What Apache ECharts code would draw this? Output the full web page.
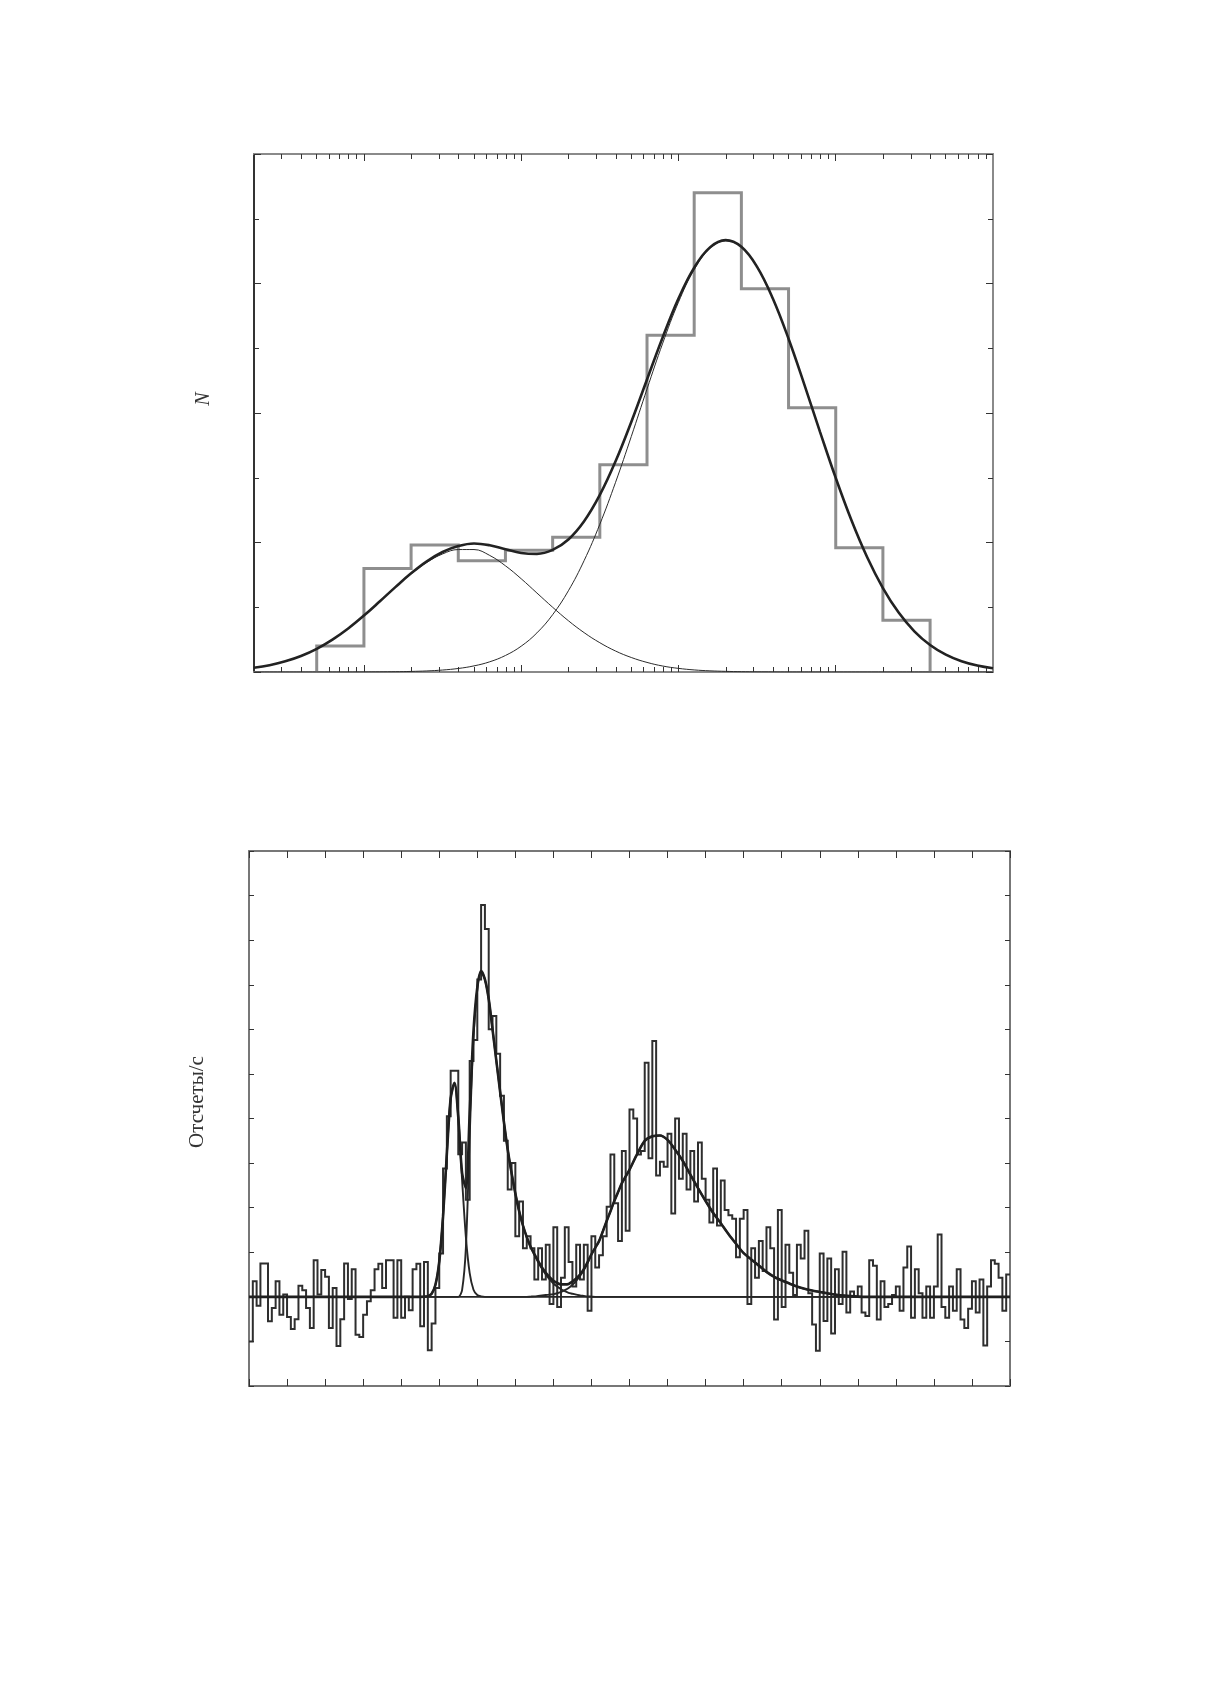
<!DOCTYPE html>
<html>
<head>
<meta charset="utf-8">
<script src="https://cdn.jsdelivr.net/npm/echarts@6/dist/echarts.min.js"></script>
<style>html,body{margin:0;padding:0;background:#fff}#c{width:1210px;height:1683px}</style>
</head>
<body>
<div id="c"></div>
<script>
// ---------- Top panel: duration distribution (log time axis) ----------
const durMin = 0.02, durMax = 1000;
const durMajorTicks = [0.1, 1, 10, 100];
const durMinorTicks = [0.03,0.04,0.05,0.06,0.07,0.08,0.09,
  0.2,0.3,0.4,0.5,0.6,0.7,0.8,0.9, 2,3,4,5,6,7,8,9,
  20,30,40,50,60,70,80,90, 200,300,400,500,600,700,800,900];
const countMin = 0, countMax = 200, countStep = 50;
const histEdges = [0.0501, 0.1, 0.1995, 0.398, 0.794, 1.585, 3.162, 6.31, 12.59, 25.12, 50.12, 100, 199.5, 398.1];
const histCounts = [10, 40, 49, 43, 47, 52, 80, 130, 185, 148, 102, 48, 20];
const fitLogT = [-1.7,-1.6,-1.5,-1.4,-1.3,-1.2,-1.1,-1.0,-0.9,-0.8,-0.7,-0.6,-0.5,-0.4,-0.3,-0.2,-0.1,0.0,
  0.1,0.2,0.3,0.4,0.5,0.6,0.7,0.8,0.9,1.0,1.1,1.2,1.3,1.4,1.5,1.6,1.7,1.8,1.9,2.0,
  2.1,2.2,2.3,2.4,2.5,2.6,2.7,2.8,2.9,3.0];
const fitShort = [1.63,2.64,4.12,6.18,8.95,12.49,16.79,21.75,27.15,32.67,37.87,42.32,45.57,47.28,47.28,45.0,41.0,36.0,
  30.5,25.0,19.8,15.2,11.3,8.1,5.6,3.7,2.3,1.4,0.8,0.45,0.25,0.12,0.06,0.03,0,0,0,0,
  0,0,0,0,0,0,0,0,0,0];
const fitLong = [0,0,0,0,0,0,0,0.03,0.06,0.11,0.22,0.41,0.76,1.36,2.36,3.94,6.38,9.97,
  15.1,22.13,31.36,43.0,57.05,73.23,90.93,109.24,126.97,142.77,155.33,163.49,166.5,164.04,156.36,144.19,128.66,111.06,92.74,74.93,
  58.57,44.3,32.42,22.95,15.72,10.41,6.68,4.14,2.48,1.44];

// ---------- Bottom panel: light curve ----------
const timeMin = 0, timeMax = 200, timeStep = 10, binWidth = 1;
const rateMin = -200, rateMax = 1000, rateStep = 100;
const rateBins = [
 -100,35,-20,75,75,-55,-25,35,-40,5, -45,-72,-50,25,15,-25,-70,82,5,60,
 45,-70,20,-110,-50,75,-5,62,-85,-90, -40,-10,15,62,74,20,82,82,-47,82,
 -47,0,-30,62,74,-66,78,-120,-60,20, 97,288,405,507,507,320,346,218,529,576,
 712,879,825,600,630,545,451,350,241,300, 136,214,109,136,109,39,109,39,117,-16,
 156,-23,43,156,78,23,117,39,117,-31, 136,66,93,136,202,319,210,125,327,148,
 420,400,319,327,525,311,574,272,303,292, 366,187,400,265,366,241,327,214,346,265,
 218,167,288,160,261,195,183,175,89,175, 195,-16,109,43,125,58,156,109,-51,195,
 -23,117,54,4,117,86,148,8,-62,-121, 97,-54,86,-82,62,-16,101,-35,12,0,
 23,-35,-43,82,70,-51,35,-23,-16,4, 23,-31,66,113,-47,62,8,-47,23,-47,
 23,140,-23,-47,23,-31,62,-51,-70,-27, 35,-35,39,-109,23,82,74,43,-31,50];
const fitX = [0,44,45,46,47,48,49,50,51,52,53,54,55,56,57,58,59,60,61,62,63,64,65,66,67,68,69,70,71,72,73,74,75,
  76,77,78,79,80,81,82,83,84,85,86,87,88,89,90,91,92,93,94,95,96,97,98,99,100,
  102,104,106,108,110,112,114,116,118,120,122,124,126,128,130,132,134,136,138,140,142,144,146,148,150,152,154,156,158,160,162,164,200];
const pulse1 = [0,0,0,0.3,1.5,7,27,79,181,321,445,480,403,263,134,53,16,4,1,0,0,0,0,0,0,0,0,0,0,0,0,0,0,
  0,0,0,0,0,0,0,0,0,0,0,0,0,0,0,0,0,0,0,0,0,0,0,0,0,
  0,0,0,0,0,0,0,0,0,0,0,0,0,0,0,0,0,0,0,0,0,0,0,0,0,0,0,0,0,0,0,0,0];
const pulse2 = [0,0,0,0,0,0,0,0,0,0,0,0,0,15,110,360,580,690,730,712,668,600,530,460,392,330,278,232,192,160,134,112,95,
  78,63,50,39,30,23,17,13,9,7,5,3,2,1,0.5,0,0,0,0,0,0,0,0,0,0,
  0,0,0,0,0,0,0,0,0,0,0,0,0,0,0,0,0,0,0,0,0,0,0,0,0,0,0,0,0,0,0,0,0];
const pulse3 = [0,0,0,0,0,0,0,0,0,0,0,0,0,0,0,0,0,0,0,0,0,0,0,0,0,0,0,0,0,0,0,0.5,1,
  2,3,4,5,6,8,11,15,20,27,36,47,60,77,95,110,125,147,170,192,215,235,255,270,285,
  320,350,360,362,352,330,305,274,244,215,188,165,141,119,98,84,70,56,45,37,30,23,18,14,11,8,5,3,1.5,0.5,0,0,0];

// ---------- build ----------
const lg = v => Math.log10(v);
const histPts = [[lg(histEdges[0]), 0]];
histCounts.forEach((h, i) => { histPts.push([lg(histEdges[i]), h], [lg(histEdges[i + 1]), h]); });
histPts.push([lg(histEdges[histEdges.length - 1]), 0]);
const shortPts = fitLogT.map((l, i) => [l, fitShort[i]]);
const longPts = fitLogT.map((l, i) => [l, fitLong[i]]);
const totalTopPts = fitLogT.map((l, i) => [l, fitShort[i] + fitLong[i]]);

const lcPts = [];
rateBins.forEach((v, i) => { const t0 = timeMin + i * binWidth; lcPts.push([t0, v], [t0 + binWidth, v]); });
const p1Pts = fitX.map((t, i) => [t, pulse1[i]]);
const p2Pts = fitX.map((t, i) => [t, pulse2[i]]);
const p3Pts = fitX.map((t, i) => [t, pulse3[i]]);
const totPts = fitX.map((t, i) => [t, pulse1[i] + pulse2[i] + pulse3[i]]);

const GRAY = '#8a8a8a', DARK = '#333';
function xLogAxis(pos, ticks, len, showLine) {
  return {
    gridIndex: 0, type: 'value', position: pos, min: lg(durMin), max: lg(durMax),
    axisLine: { show: showLine, onZero: false, lineStyle: { color: GRAY, width: 2 } },
    axisTick: { show: true, inside: true, length: len, customValues: ticks.map(lg), lineStyle: { color: DARK, width: 1 } },
    axisLabel: { show: false }, splitLine: { show: false }
  };
}
function yCountAxis(pos, lineColor) {
  return {
    gridIndex: 0, type: 'value', position: pos, min: countMin, max: countMax, interval: countStep,
    axisLine: { show: true, onZero: false, lineStyle: { color: lineColor, width: 2 } },
    axisTick: { show: true, inside: true, length: 7, lineStyle: { color: DARK, width: 1 } },
    minorTick: { show: true, splitNumber: 2, length: 5, lineStyle: { color: DARK, width: 1 } },
    axisLabel: { show: false }, splitLine: { show: false }, minorSplitLine: { show: false }
  };
}
function xTimeAxis(pos) {
  return {
    gridIndex: 1, type: 'value', position: pos, min: timeMin, max: timeMax, interval: timeStep,
    axisLine: { show: true, onZero: false, lineStyle: { color: '#777', width: 2 } },
    axisTick: { show: true, inside: true, length: 7, lineStyle: { color: DARK, width: 1 } },
    axisLabel: { show: false }, splitLine: { show: false }
  };
}
function yRateAxis(pos) {
  return {
    gridIndex: 1, type: 'value', position: pos, min: rateMin, max: rateMax, interval: rateStep,
    axisLine: { show: true, onZero: false, lineStyle: { color: '#777', width: 2 } },
    axisTick: { show: true, inside: true, length: 5, lineStyle: { color: DARK, width: 1 } },
    axisLabel: { show: false }, splitLine: { show: false }
  };
}
const lineBase = { type: 'line', symbol: 'none', silent: true, animation: false };

const chart = echarts.init(document.getElementById('c'), null, { renderer: 'canvas' });
chart.setOption({
  animation: false,
  backgroundColor: '#fff',
  grid: [
    { left: 254, top: 154, width: 739, height: 518 },
    { left: 249, top: 851, width: 761, height: 535 }
  ],
  xAxis: [
    xLogAxis('bottom', durMajorTicks, 7, true),
    xLogAxis('bottom', durMinorTicks, 5, false),
    xLogAxis('top', durMajorTicks, 7, true),
    xLogAxis('top', durMinorTicks, 5, false),
    xTimeAxis('bottom'),
    xTimeAxis('top')
  ],
  yAxis: [
    yCountAxis('left', DARK),
    yCountAxis('right', GRAY),
    yRateAxis('left'),
    yRateAxis('right')
  ],
  graphic: [
    { type: 'text', x: 204, y: 399, rotation: Math.PI / 2,
      style: { text: 'N', font: 'italic 20px "Liberation Serif", "DejaVu Serif", serif', fill: '#333', align: 'center', verticalAlign: 'middle' } },
    { type: 'text', x: 197, y: 1102, rotation: Math.PI / 2,
      style: { text: 'Отсчеты/с', font: '21px "Liberation Serif", "DejaVu Serif", serif', fill: '#333', align: 'center', verticalAlign: 'middle' } }
  ],
  series: [
    Object.assign({}, lineBase, { xAxisIndex: 0, yAxisIndex: 0, data: histPts, z: 2,
      lineStyle: { color: '#8e8e8e', width: 3, join: 'miter', cap: 'butt' } }),
    Object.assign({}, lineBase, { xAxisIndex: 0, yAxisIndex: 0, data: shortPts, smooth: 0.4, z: 3,
      lineStyle: { color: '#2b2b2b', width: 1 } }),
    Object.assign({}, lineBase, { xAxisIndex: 0, yAxisIndex: 0, data: longPts, smooth: 0.4, z: 3,
      lineStyle: { color: '#2b2b2b', width: 1 } }),
    Object.assign({}, lineBase, { xAxisIndex: 0, yAxisIndex: 0, data: totalTopPts, smooth: 0.4, z: 4,
      lineStyle: { color: '#222', width: 2.6 } }),

    Object.assign({}, lineBase, { xAxisIndex: 4, yAxisIndex: 2, data: lcPts, z: 2,
      lineStyle: { color: '#2e2e2e', width: 2, join: 'miter', cap: 'butt' } }),
    Object.assign({}, lineBase, { xAxisIndex: 4, yAxisIndex: 2, data: p1Pts, smooth: 0.3, z: 3,
      lineStyle: { color: '#262626', width: 1.9 } }),
    Object.assign({}, lineBase, { xAxisIndex: 4, yAxisIndex: 2, data: p2Pts, smooth: 0.3, z: 3,
      lineStyle: { color: '#262626', width: 1.9 } }),
    Object.assign({}, lineBase, { xAxisIndex: 4, yAxisIndex: 2, data: p3Pts, smooth: 0.3, z: 3,
      lineStyle: { color: '#262626', width: 1.9 } }),
    Object.assign({}, lineBase, { xAxisIndex: 4, yAxisIndex: 2, data: totPts, smooth: 0.3, z: 4,
      lineStyle: { color: '#1f1f1f', width: 2.6 } })
  ]
});
</script>
</body>
</html>
